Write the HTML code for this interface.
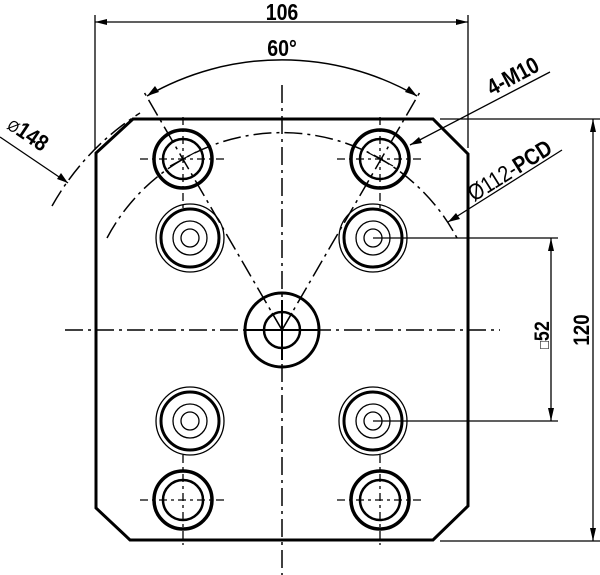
<!DOCTYPE html>
<html><head><meta charset="utf-8"><style>
html,body{margin:0;padding:0;background:#fff;}
svg{display:block;}
text{font-family:"Liberation Sans",sans-serif;fill:#000;}
</style></head><body>
<svg width="600" height="575" viewBox="0 0 600 575" xmlns="http://www.w3.org/2000/svg">
<g fill="none" stroke="#000">
<path d="M133,119 L433,119 L468,154 L468,506 L433,540 L130,540 L96,508 L96,153 Z" stroke-width="3"/>
<g stroke-width="1.5" stroke-dasharray="18,5,3,5">
<line x1="282" y1="85" x2="282" y2="575"/>
<line x1="65" y1="330" x2="500" y2="330"/>
<line x1="282" y1="330" x2="144" y2="92"/>
<line x1="282" y1="330" x2="420" y2="92"/>
<path d="M107,238 A198,198 0 0 1 457,238"/>
<path d="M52,206 A262,262 0 0 1 140,113"/>
</g>
<g stroke-width="1.3" stroke-dasharray="8,4,3,4">
<line x1="140" y1="159" x2="226" y2="159"/><line x1="183" y1="117" x2="183" y2="210"/>
<line x1="337" y1="159" x2="423" y2="159"/><line x1="380" y1="117" x2="380" y2="210"/>
<line x1="140" y1="500" x2="226" y2="500"/><line x1="183" y1="455" x2="183" y2="545"/>
<line x1="337" y1="500" x2="423" y2="500"/><line x1="380" y1="455" x2="380" y2="545"/>
</g>
<g stroke-width="3.5"><circle cx="183" cy="159" r="29"/><circle cx="380" cy="159" r="29"/><circle cx="183" cy="500" r="29"/><circle cx="380" cy="500" r="29"/></g>
<g stroke-width="2.5"><circle cx="183" cy="159" r="20"/><circle cx="380" cy="159" r="20"/><circle cx="183" cy="500" r="20"/><circle cx="380" cy="500" r="20"/></g>
<line x1="170" y1="166" x2="196" y2="152" stroke-width="1.2"/>
<line x1="367" y1="152" x2="393" y2="166" stroke-width="1.2"/>
<g transform="translate(190,238)"><circle r="34" stroke-width="1.3"/><circle r="29" stroke-width="3"/><circle r="17" stroke-width="1.3"/><circle r="9" stroke-width="1.3"/></g>
<g transform="translate(373,238)"><circle r="34" stroke-width="1.3"/><circle r="29" stroke-width="3"/><circle r="17" stroke-width="1.3"/><circle r="9" stroke-width="1.3"/></g>
<g transform="translate(190,421)"><circle r="34" stroke-width="1.3"/><circle r="29" stroke-width="3"/><circle r="17" stroke-width="1.3"/><circle r="9" stroke-width="1.3"/></g>
<g transform="translate(373,421)"><circle r="34" stroke-width="1.3"/><circle r="29" stroke-width="3"/><circle r="17" stroke-width="1.3"/><circle r="9" stroke-width="1.3"/></g>
<circle cx="282" cy="330" r="37" stroke-width="3"/>
<circle cx="282" cy="330" r="18" stroke-width="2.5"/>
<line x1="282" y1="300" x2="282" y2="360" stroke-width="2"/>
<line x1="245" y1="330" x2="318" y2="330" stroke-width="2"/>
<line x1="282" y1="330" x2="272" y2="313" stroke-width="1.3"/>
<line x1="282" y1="330" x2="292" y2="313" stroke-width="1.3"/>
<g stroke-width="1.3">
<line x1="95" y1="15" x2="95" y2="150"/>
<line x1="468" y1="15" x2="468" y2="148"/>
<line x1="95" y1="22" x2="468" y2="22"/>
</g>
<path d="M95,22 L107,19 L107,25 z M468,22 L456,19 L456,25 z" fill="#000" stroke="none"/>
<path d="M147,96 A270,270 0 0 1 417,96" stroke-width="1.5"/>
<path d="M147,96 L155,86 L159,92 z M417,96 L405,92 L409,86 z" fill="#000" stroke="none"/>
<line x1="0" y1="137" x2="68" y2="183" stroke-width="1.3"/>
<path d="M68,183 L57,179 L61,173 z" fill="#000" stroke="none"/>
<line x1="410" y1="145" x2="550" y2="72" stroke-width="1.3"/>
<path d="M410,145 L419,137 L422,143 z" fill="#000" stroke="none"/>
<line x1="448" y1="222" x2="562" y2="150" stroke-width="1.3"/>
<path d="M448,222 L456,213 L460,219 z" fill="#000" stroke="none"/>
<g stroke-width="1.3">
<line x1="440" y1="119" x2="600" y2="119"/>
<line x1="440" y1="541" x2="600" y2="541"/>
<line x1="593" y1="119" x2="593" y2="541"/>
<line x1="373" y1="238" x2="558" y2="238"/>
<line x1="373" y1="421" x2="558" y2="421"/>
<line x1="551" y1="238" x2="551" y2="421"/>
</g>
<path d="M593,119 L590,132 L596,132 z M593,541 L590,528 L596,528 z M551,238 L548,251 L554,251 z M551,421 L548,408 L554,408 z" fill="#000" stroke="none"/>
</g>
<text transform="translate(282,20) scale(0.85,1)" font-size="23" font-weight="bold" text-anchor="middle">106</text>
<text transform="translate(282,56) scale(0.85,1)" font-size="23" font-weight="bold" text-anchor="middle">60°</text>
<text transform="translate(6,128) rotate(34) scale(0.85,1)" font-size="23"><tspan font-size="16">Ø</tspan><tspan font-weight="bold">148</tspan></text>
<text transform="translate(492,96) rotate(-28) scale(0.85,1)" font-size="23" font-weight="bold">4-M10</text>
<text transform="translate(474,202) rotate(-32) scale(0.85,1)" font-size="23"><tspan>Ø112-</tspan><tspan font-weight="bold">PCD</tspan></text>
<text transform="translate(549,335) rotate(-90) scale(0.85,1)" font-size="21" font-weight="bold" text-anchor="middle"><tspan font-weight="normal" font-size="15">□</tspan>52</text>
<text transform="translate(589,330) rotate(-90) scale(0.85,1)" font-size="22" font-weight="bold" text-anchor="middle">120</text>
</svg>
</body></html>
